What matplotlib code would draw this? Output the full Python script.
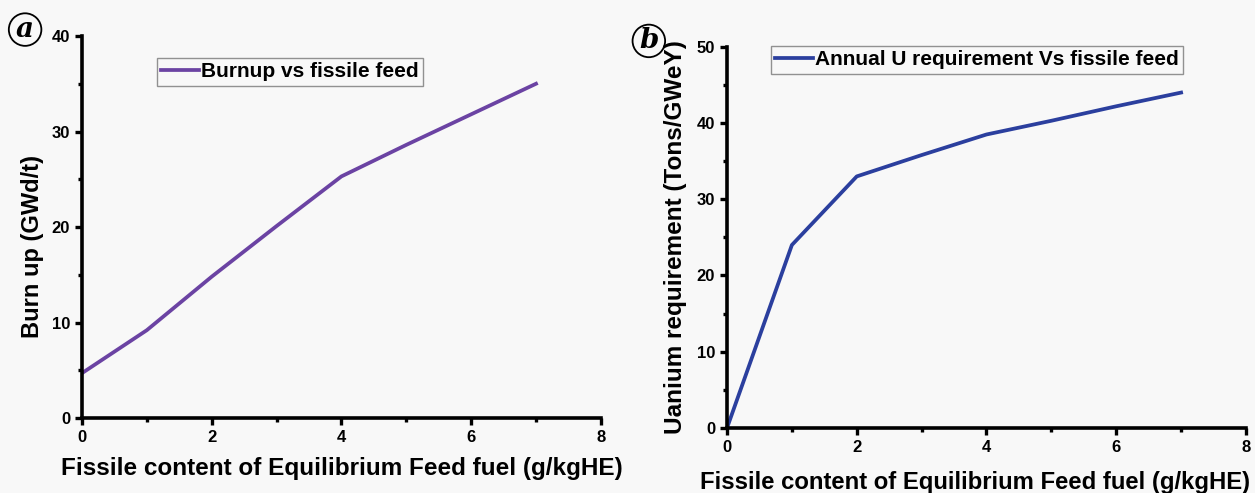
import matplotlib.pyplot as plt
from matplotlib.ticker import MultipleLocator

# данные
fissile = [0, 1, 2, 3, 4, 5, 6, 7]
burnup = [4.7, 9.2, 14.8, 20.1, 25.3, 28.6, 31.8, 35.0]
uranium = [0, 24.0, 33.0, 35.8, 38.5, 40.3, 42.2, 44.0]

xlabel = 'Fissile content of Equilibrium Feed fuel (g/kgHE)'

plt.rcParams['font.family'] = ['Liberation Sans', 'DejaVu Sans']
plt.rcParams['font.weight'] = 'bold'

fig = plt.figure(figsize=(12.55, 4.93), dpi=100)
fig.patch.set_facecolor('#f8f8f8')

ax1 = fig.add_axes([0.0653, 0.152, 0.4135, 0.775])
ax2 = fig.add_axes([0.5793, 0.132, 0.4135, 0.773])

def style(ax, ymax, ymaj):
    ax.set_facecolor('#f8f8f8')
    for s in ['top', 'right']:
        ax.spines[s].set_visible(False)
    for s in ['left', 'bottom']:
        ax.spines[s].set_linewidth(2.6)
    ax.set_xlim(0, 8)
    ax.set_ylim(0, ymax)
    ax.xaxis.set_major_locator(MultipleLocator(2))
    ax.xaxis.set_minor_locator(MultipleLocator(1))
    ax.yaxis.set_major_locator(MultipleLocator(ymaj))
    ax.yaxis.set_minor_locator(MultipleLocator(ymaj / 2))
    ax.tick_params(which='major', direction='out', length=5, width=2.4, labelsize=12)
    ax.tick_params(which='minor', direction='out', length=3, width=2.4)
    for t in ax.get_xticklabels() + ax.get_yticklabels():
        t.set_fontweight('bold')

style(ax1, 40, 10)
style(ax2, 50, 10)

ax1.plot(fissile, burnup, color='#6b43a3', lw=2.7, label='Burnup vs fissile feed')
ax2.plot(fissile, uranium, color='#2b3f9e', lw=2.7, label='Annual U requirement Vs fissile feed')

ax1.set_xlabel(xlabel, fontsize=17.5, fontweight='bold')
ax1.set_ylabel('Burn up (GWd/t)', fontsize=17, fontweight='bold')
ax2.set_xlabel(xlabel, fontsize=17.2, fontweight='bold')
ax2.set_ylabel('Uanium requirement (Tons/GWeY)', fontsize=17.5, fontweight='bold')
ax1.xaxis.set_label_coords(0.5, -0.131, transform=ax1.transAxes)
ax1.yaxis.set_label_coords(-0.096, 0.45, transform=ax1.transAxes)
ax2.xaxis.set_label_coords(0.478, -0.142, transform=ax2.transAxes)
ax2.yaxis.set_label_coords(-0.10, 0.5, transform=ax2.transAxes)
ax1.xaxis.label.set_va('center')
ax2.xaxis.label.set_va('center')
ax1.yaxis.label.set_va('center')
ax2.yaxis.label.set_va('center')

for ax, loc in [(ax1, (0.145, 0.87)), (ax2, (0.085, 0.93))]:
    leg = ax.legend(loc='lower left', bbox_to_anchor=loc, frameon=True,
                    fancybox=False, handlelength=1.8, handletextpad=0.1, borderpad=0.2,
                    borderaxespad=0, prop={'weight': 'bold', 'size': 15})
    leg.get_frame().set_edgecolor('#777777')
    leg.get_frame().set_linewidth(1)
    leg.get_frame().set_facecolor('#f8f8f8')

# подписи панелей
fig.text(0.020, 0.94, 'a', fontsize=20, style='italic', fontweight='bold',
         family='DejaVu Serif', ha='center', va='center',
         bbox=dict(boxstyle='circle,pad=0.1', fc='none', ec='black', lw=1.3))
fig.text(0.517, 0.917, 'b', fontsize=20, style='italic', fontweight='bold',
         family='DejaVu Serif', ha='center', va='center',
         bbox=dict(boxstyle='circle,pad=0.1', fc='none', ec='black', lw=1.3))

fig.savefig('out.png', dpi=100, facecolor=fig.get_facecolor())
